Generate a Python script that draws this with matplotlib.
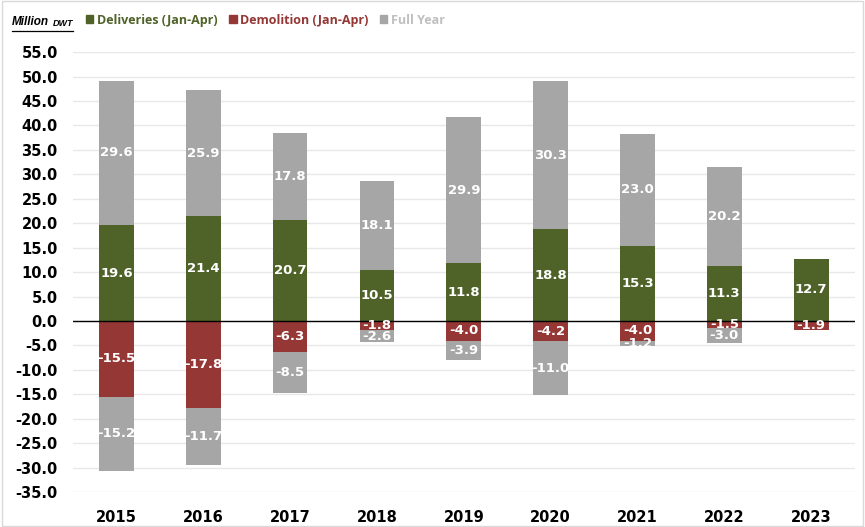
import numpy as np
import matplotlib.pyplot as plt
from matplotlib.patches import Rectangle
from matplotlib.lines import Line2D

plt.rcParams['axes.unicode_minus'] = False

years = ['2015', '2016', '2017', '2018', '2019', '2020', '2021', '2022', '2023']
deliveries = [19.6, 21.4, 20.7, 10.5, 11.8, 18.8, 15.3, 11.3, 12.7]
full_year_pos = [29.6, 25.9, 17.8, 18.1, 29.9, 30.3, 23.0, 20.2, np.nan]
demolition = [-15.5, -17.8, -6.3, -1.8, -4.0, -4.2, -4.0, -1.5, -1.9]
full_year_neg = [-15.2, -11.7, -8.5, -2.6, -3.9, -11.0, -1.2, -3.0, np.nan]

green = '#4F6228'
red = '#953735'
grey = '#A6A6A6'

fig = plt.figure(figsize=(8.65, 5.27), dpi=100)
ax = fig.add_axes([0.0844, 0.0664, 0.9036, 0.8346])

x = np.arange(len(years))
w = 0.40

ax.bar(x, deliveries, w, color=green, zorder=3)
ax.bar(x, full_year_pos, w, bottom=deliveries, color=grey, zorder=3)
ax.bar(x, demolition, w, color=red, zorder=3)
ax.bar(x, full_year_neg, w, bottom=demolition, color=grey, zorder=3)

lab = dict(ha='center', va='center', color='white', fontsize=9.5,
           fontweight='bold', zorder=5)
for i in range(len(years)):
    ax.text(x[i], deliveries[i] / 2, f'{deliveries[i]:.1f}', **lab)
    if not np.isnan(full_year_pos[i]):
        ax.text(x[i], deliveries[i] + full_year_pos[i] / 2,
                f'{full_year_pos[i]:.1f}', **lab)
    ax.text(x[i], demolition[i] / 2, f'{demolition[i]:.1f}', **lab)
    if not np.isnan(full_year_neg[i]):
        ax.text(x[i], demolition[i] + full_year_neg[i] / 2,
                f'{full_year_neg[i]:.1f}', **lab)

ax.axhline(0, color='black', lw=1, zorder=4)
ax.set_xlim(-0.5, len(years) - 0.5)
ax.set_ylim(-35, 55)
ax.set_yticks(np.arange(-35, 56, 5))
ax.set_yticklabels([f'{v:.1f}' for v in np.arange(-35, 56, 5)])
ax.yaxis.grid(True, color='#E8E8E8', lw=1, zorder=0)
ax.set_xticks(x)
ax.set_xticklabels(years)
for s in ax.spines.values():
    s.set_visible(False)
ax.tick_params(axis='both', length=0, labelsize=10.5, colors='black')
ax.tick_params(axis='y', pad=11)
ax.tick_params(axis='x', pad=13)
for t in ax.get_xticklabels() + ax.get_yticklabels():
    t.set_fontweight('bold')

# legend
handles = [Rectangle((0, 0), 1, 1, color=c) for c in (green, red, grey)]
fig.legend(handles, ['Deliveries (Jan-Apr)', 'Demolition (Jan-Apr)', 'Full Year'],
           loc='center', bbox_to_anchor=(0.307, 0.962), ncol=3, frameon=False,
           handlelength=0.6, handleheight=0.6, handletextpad=0.3, columnspacing=0.9,
           labelcolor=[green, red, '#BFBFBF'],
           prop={'family': 'Open Sans', 'size': 9, 'weight': 'bold'})

# unit label, underlined
r = fig.canvas.get_renderer()
t1 = fig.text(0.014, 0.958, 'Million', fontsize=8.5, fontweight='bold', style='italic',
              va='center', family='Liberation Sans')
bb = t1.get_window_extent(r).transformed(fig.transFigure.inverted())
t2 = fig.text(bb.x1 + 0.004, 0.956, 'DWT', fontsize=6.5, fontweight='bold', style='italic',
              va='center', family='Liberation Sans')
bb2 = t2.get_window_extent(r).transformed(fig.transFigure.inverted())
fig.add_artist(Line2D([0.014, bb2.x1], [0.941, 0.941], color='black', lw=0.9))

# figure border
fig.add_artist(Rectangle((0.002, 0.002), 0.996, 0.996, transform=fig.transFigure,
                         fill=False, edgecolor='#D9D9D9', lw=1))

fig.savefig('out.png', dpi=100)
